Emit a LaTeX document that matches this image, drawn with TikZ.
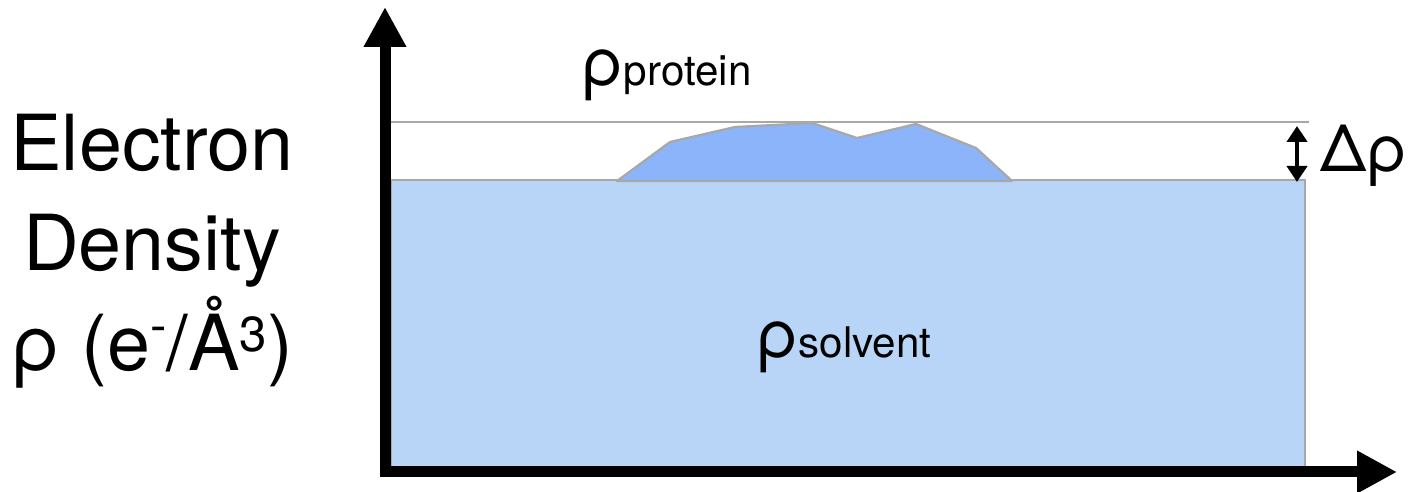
\documentclass[tikz,border=0pt]{standalone}
\usepackage{fontspec}
\setmainfont{TeX Gyre Heros}
\usetikzlibrary{arrows.meta}
\definecolor{solventBlue}{RGB}{184,212,246}
\definecolor{proteinBlue}{RGB}{140,180,250}
\definecolor{edgeGray}{RGB}{168,168,168}
\newcommand{\subsize}{\fontsize{24}{24}\selectfont}
\newcommand{\upmark}[2]{\raisebox{#1}{\fontsize{28}{28}\selectfont #2}}

\begin{document}
\begin{tikzpicture}[
  x=0.02cm, y=-0.02cm,
  axis/.style={draw=black, line width=0.22cm, line join=miter,
               {Triangle[length=0.8cm,width=0.8cm]}-{Triangle[length=0.8cm,width=0.8cm]}},
  lvl/.style={draw=edgeGray, line width=0.045cm},
  gap/.style={draw=black, line width=0.08cm,
              {Triangle[length=0.32cm,width=0.4cm]}-{Triangle[length=0.32cm,width=0.4cm]}},
  big/.style={font=\fontsize{38}{38}\selectfont, inner sep=0pt, anchor=base west},
]
\useasboundingbox (0,0) rectangle (1410,492);

% ============ levels ============
\coordinate (ytip)   at (385,7);
\coordinate (corner) at (385,472);
\coordinate (xtip)   at (1397,472);
\coordinate (protL)  at (385,122);
\coordinate (protR)  at (1309,122);
\coordinate (dtop)   at (1297,126);
\coordinate (dbot)   at (1297,182);

% solvent bath
\draw[lvl, fill=solventBlue] (391,180) rectangle (1305,467);
% protein bump sitting on the solvent
\draw[lvl, fill=proteinBlue, line join=round]
  (617,181) -- (670,142) -- (735,127) -- (812,123) -- (857,138)
  -- (916,124) -- (976,148) -- (1012,181) -- cycle;
\draw[lvl] (protL) -- (protR);

% axes
\draw[axis] (ytip) -- (corner) -- (xtip);
\draw[gap] (dtop) -- (dbot);

% ============ labels ============
\node[inner sep=0pt, align=center, font=\fontsize{44}{57}\selectfont]
  (ylabel) at (152,251)
  {Electron\\Density\\ρ (e\upmark{16pt}{-}/Å\upmark{11pt}{3})};
\node[big] (rprot) at (581,86) {ρ{\subsize protein}};
\node[big] (rsolv) at (756,358) {ρ{\subsize solvent}};
\node[big, font=\fontsize{37}{37}\selectfont] (drho) at (1320,172) {Δρ};

\end{tikzpicture}
\end{document}
